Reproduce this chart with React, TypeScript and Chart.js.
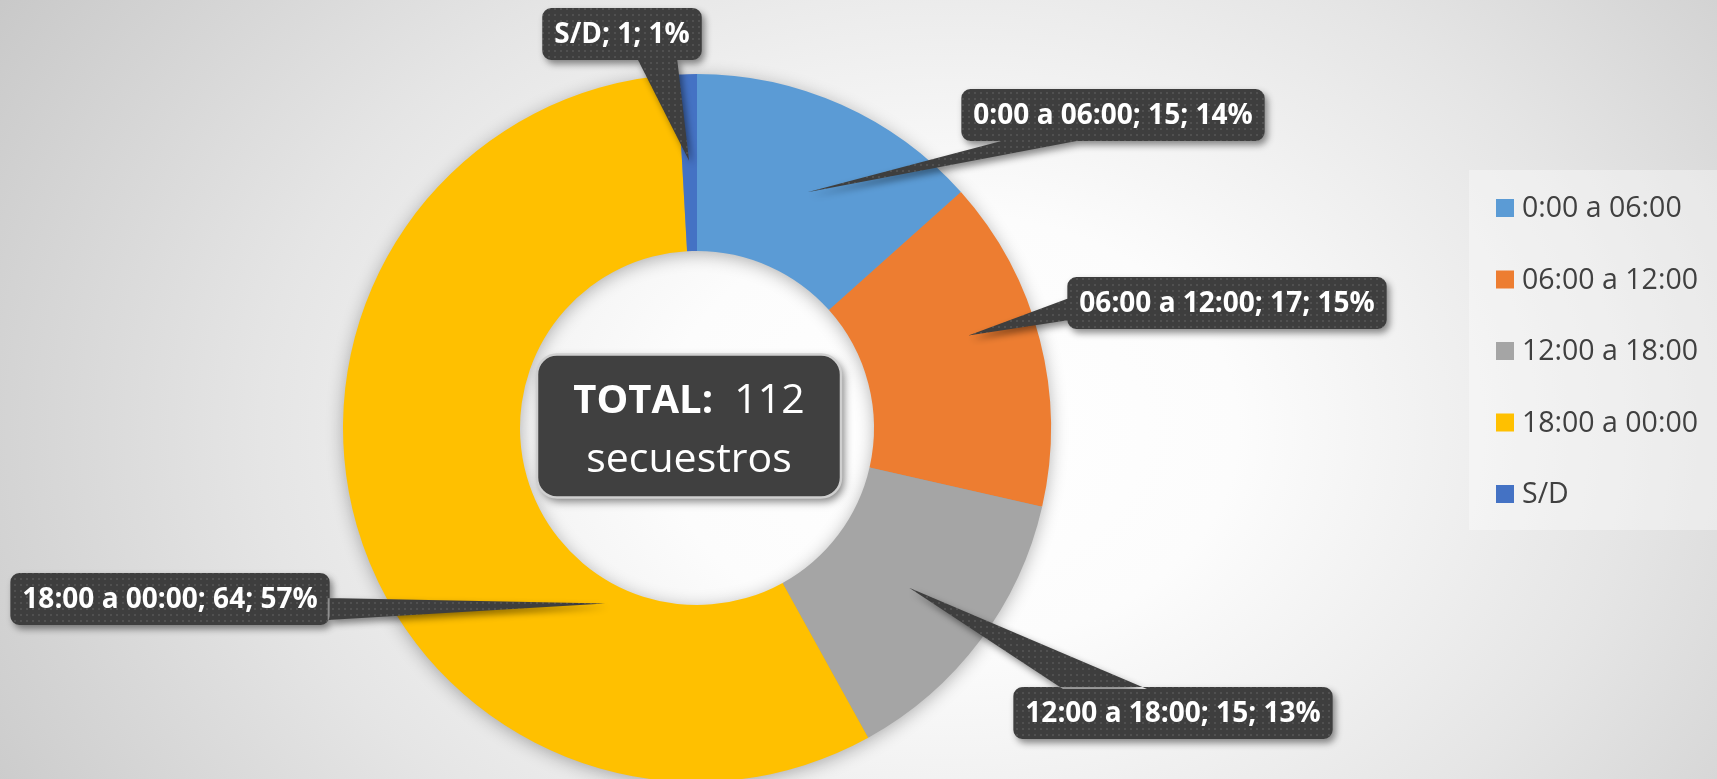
import React, { useEffect, useRef } from 'react';
import { Chart, registerables } from 'chart.js';

Chart.register(...registerables);

// ---------- data ----------
const categories = ['0:00 a 06:00', '06:00 a 12:00', '12:00 a 18:00', '18:00 a 00:00', 'S/D'];
const counts = [15, 17, 15, 64, 1];
const percentLabels = ['14%', '15%', '13%', '57%', '1%'];
const sliceColors = ['#5B9BD5', '#ED7D31', '#A5A5A5', '#FFC000', '#4472C4'];
const totalTitle = 'TOTAL:';
const totalUnit = 'secuestros';

// ---------- layout (annotation placement, not data) ----------
type Side = 'top' | 'bottom' | 'left' | 'right';
const calloutLayout: { cx: number; cy: number; side: Side; b0: number; b1: number; tipA: number; tipR: number }[] = [
  { cx: 1113, cy: 115, side: 'bottom', b0: 1009, b1: 1087, tipA: 0.52, tipR: 0.47 },
  { cx: 1227, cy: 303, side: 'left', b0: 298, b1: 320, tipA: 0.42, tipR: 0.62 },
  { cx: 1173, cy: 713, side: 'top', b0: 1063, b1: 1147, tipA: 0.5, tipR: 0.5 },
  { cx: 170, cy: 599, side: 'right', b0: 598, b1: 620, tipA: 0.275, tipR: 0.12 },
  { cx: 622, cy: 34, side: 'bottom', b0: 637, b1: 677, tipA: 0.47, tipR: 0.51 },
];

const W = 1717;
const H = 779;
const CANVAS_H = 800;

function roundRectPath(ctx: CanvasRenderingContext2D, x: number, y: number, w: number, h: number, r: number) {
  ctx.moveTo(x + r, y);
  ctx.lineTo(x + w - r, y);
  ctx.arcTo(x + w, y, x + w, y + r, r);
  ctx.lineTo(x + w, y + h - r);
  ctx.arcTo(x + w, y + h, x + w - r, y + h, r);
  ctx.lineTo(x + r, y + h);
  ctx.arcTo(x, y + h, x, y + h - r, r);
  ctx.lineTo(x, y + r);
  ctx.arcTo(x, y, x + r, y, r);
  ctx.closePath();
}

let dotPattern: CanvasPattern | null = null;
function getPattern(ctx: CanvasRenderingContext2D) {
  if (dotPattern) return dotPattern;
  const c = document.createElement('canvas');
  c.width = 6;
  c.height = 6;
  const p = c.getContext('2d')!;
  p.fillStyle = '#3e3e3e';
  p.fillRect(0, 0, 6, 6);
  p.fillStyle = '#505050';
  p.fillRect(2, 2, 2, 2);
  dotPattern = ctx.createPattern(c, 'repeat');
  return dotPattern;
}

const backgroundPlugin = {
  id: 'bgGradient',
  beforeDraw(chart: any) {
    const ctx: CanvasRenderingContext2D = chart.ctx;
    ctx.save();
    ctx.translate(950, 430);
    ctx.scale(1, 0.75);
    const g = ctx.createRadialGradient(0, 0, 0, 0, 0, 1150);
    g.addColorStop(0, '#ffffff');
    g.addColorStop(0.25, '#fcfcfc');
    g.addColorStop(0.6, '#e5e5e5');
    g.addColorStop(1, '#c6c6c6');
    ctx.fillStyle = g;
    ctx.fillRect(-2000, -2000, 4000, 4000);
    ctx.restore();
  },
};

const ringShadowPlugin = {
  id: 'ringShadow',
  beforeDatasetsDraw(chart: any) {
    const meta = chart.getDatasetMeta(0);
    const a = meta.data[0];
    if (!a) return;
    const { x, y, innerRadius, outerRadius } = a.getProps(['x', 'y', 'innerRadius', 'outerRadius'], true);
    const ctx: CanvasRenderingContext2D = chart.ctx;
    ctx.save();
    ctx.shadowColor = 'rgba(0,0,0,0.32)';
    ctx.shadowBlur = 18;
    ctx.shadowOffsetX = 0;
    ctx.shadowOffsetY = 3;
    ctx.fillStyle = '#999';
    ctx.beginPath();
    ctx.arc(x, y, outerRadius - 1, 0, Math.PI * 2);
    ctx.arc(x, y, innerRadius + 1, 0, Math.PI * 2, true);
    ctx.fill('evenodd');
    ctx.restore();
  },
};

const calloutPlugin = {
  id: 'callouts',
  afterDatasetsDraw(chart: any) {
    const ctx: CanvasRenderingContext2D = chart.ctx;
    const meta = chart.getDatasetMeta(0);
    const labels: string[] = chart.data.labels;
    const values: number[] = chart.data.datasets[0].data;

    // centre box
    const first = meta.data[0];
    const c = first.getProps(['x', 'y'], true);
    ctx.save();
    const bw = 304, bh = 143;
    const bx = c.x - 8 - bw / 2;
    const by = c.y - 2 - bh / 2;
    ctx.shadowColor = 'rgba(0,0,0,0.5)';
    ctx.shadowBlur = 8;
    ctx.shadowOffsetX = 3;
    ctx.shadowOffsetY = 4;
    ctx.beginPath();
    roundRectPath(ctx, bx, by, bw, bh, 20);
    ctx.fillStyle = '#404040';
    ctx.fill();
    ctx.shadowColor = 'transparent';
    ctx.lineWidth = 2.5;
    ctx.strokeStyle = '#cfcfcf';
    ctx.stroke();
    const total = values.reduce((s, v) => s + v, 0);
    ctx.fillStyle = '#ffffff';
    ctx.textBaseline = 'alphabetic';
    ctx.font = 'bold 40px "Open Sans"';
    const t1 = totalTitle;
    const t2 = '  ' + String(total);
    const w1 = ctx.measureText(t1).width;
    ctx.font = '41px "Open Sans"';
    const w2 = ctx.measureText(t2).width;
    const lx = bx + bw / 2 - (w1 + w2) / 2;
    ctx.textAlign = 'left';
    ctx.font = 'bold 40px "Open Sans"';
    ctx.fillText(t1, lx, by + 58);
    ctx.font = '41px "Open Sans"';
    ctx.fillText(t2, lx + w1, by + 58);
    ctx.textAlign = 'center';
    ctx.fillText(totalUnit, bx + bw / 2, by + 117);
    ctx.restore();

    // data callouts
    meta.data.forEach((arc: any, i: number) => {
      const p = arc.getProps(['x', 'y', 'startAngle', 'endAngle', 'innerRadius', 'outerRadius'], true);
      const L = calloutLayout[i];
      const ang = p.startAngle + L.tipA * (p.endAngle - p.startAngle);
      const rad = p.innerRadius + L.tipR * (p.outerRadius - p.innerRadius);
      const tx = p.x + Math.cos(ang) * rad;
      const ty = p.y + Math.sin(ang) * rad;
      const text = `${labels[i]}; ${values[i]}; ${percentLabels[i]}`;
      ctx.save();
      ctx.font = 'bold 28px "Open Sans"';
      const tw = ctx.measureText(text).width;
      const w = tw + 24;
      const h = 52;
      const x0 = L.cx - w / 2;
      const y0 = L.cy - h / 2;
      let p0: [number, number], p1: [number, number];
      if (L.side === 'bottom') { p0 = [L.b0, y0 + h - 2]; p1 = [L.b1, y0 + h - 2]; }
      else if (L.side === 'top') { p0 = [L.b0, y0 + 2]; p1 = [L.b1, y0 + 2]; }
      else if (L.side === 'left') { p0 = [x0 + 2, L.b0]; p1 = [x0 + 2, L.b1]; }
      else { p0 = [x0 + w - 2, L.b0]; p1 = [x0 + w - 2, L.b1]; }
      ctx.shadowColor = 'rgba(0,0,0,0.45)';
      ctx.shadowBlur = 7;
      ctx.shadowOffsetX = 3;
      ctx.shadowOffsetY = 4;
      ctx.beginPath();
      roundRectPath(ctx, x0, y0, w, h, 9);
      ctx.moveTo(tx, ty);
      ctx.lineTo(p0[0], p0[1]);
      ctx.lineTo(p1[0], p1[1]);
      ctx.closePath();
      ctx.fillStyle = getPattern(ctx) || '#404040';
      ctx.fill('nonzero');
      ctx.shadowColor = 'transparent';
      ctx.fillStyle = '#ffffff';
      ctx.textAlign = 'center';
      ctx.textBaseline = 'middle';
      ctx.fillText(text, L.cx, L.cy + 1);
      ctx.restore();
    });
  },
};

const legendPlugin = {
  id: 'sideLegend',
  afterDraw(chart: any) {
    const ctx: CanvasRenderingContext2D = chart.ctx;
    const labels: string[] = chart.data.labels;
    const colors: string[] = chart.data.datasets[0].backgroundColor;
    ctx.save();
    ctx.fillStyle = 'rgba(255,255,255,0.35)';
    ctx.fillRect(1469, 170, W - 1469, 360);
    ctx.font = '28.5px "Open Sans"';
    ctx.textBaseline = 'middle';
    ctx.textAlign = 'left';
    labels.forEach((lab, i) => {
      const cy = 208 + i * 71.5;
      ctx.fillStyle = colors[i];
      ctx.fillRect(1496, cy - 9, 18, 18);
      ctx.fillStyle = '#404040';
      ctx.fillText(lab, 1522, cy + 1);
    });
    ctx.restore();
  },
};

export default function App() {
  const ref = useRef<HTMLCanvasElement | null>(null);
  useEffect(() => {
    if (!ref.current) return;
    const chart = new Chart(ref.current, {
      type: 'doughnut',
      data: {
        labels: categories,
        datasets: [
          {
            data: counts,
            backgroundColor: sliceColors,
            borderWidth: 0,
            hoverOffset: 0,
            offset: 0,
          },
        ],
      },
      options: {
        animation: false,
        responsive: true,
        maintainAspectRatio: false,
        cutout: '50%',
        layout: { padding: { left: 343, right: W - 1051, top: 74, bottom: CANVAS_H - 782 } },
        plugins: {
          legend: { display: false },
          tooltip: { enabled: false },
        },
        events: [],
      },
      plugins: [backgroundPlugin, ringShadowPlugin, calloutPlugin, legendPlugin],
    });
    return () => chart.destroy();
  }, []);
  return (
    <div style={{ position: 'fixed', left: 0, top: 0, width: W, height: H, overflow: 'hidden' }}>
      <div style={{ position: 'relative', width: W, height: CANVAS_H }}>
        <canvas ref={ref} />
      </div>
    </div>
  );
}
